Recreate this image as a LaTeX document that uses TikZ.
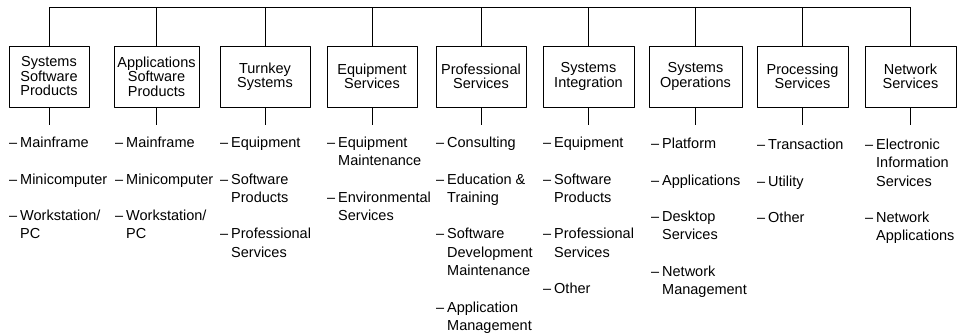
\documentclass[tikz,border=0pt]{standalone}
\usepackage{fontspec}
\setmainfont{Liberation Sans}
\newcommand\subdash{\strut\makebox[11pt][l]{--}}
\newcommand\subindent{\hspace*{11pt}}
\tikzset{
  catbox/.style={draw, line width=0.9pt, minimum height=61pt, inner sep=2pt,
    align=center, font=\fontsize{14.5}{14.5}\selectfont},
  subitem/.style={anchor=north west, inner sep=0pt, align=left,
    font=\fontsize{14.5}{18.3}\selectfont}
}
\begin{document}
\begin{tikzpicture}[x=1pt, y=-1pt, line join=round]
    \useasboundingbox (0,0) rectangle (963,333);

    % 1. Kategorien
    \node[catbox, minimum width=80pt] (ssp) at (49,76.5) {Systems\\Software\\Products};
    \node[catbox, minimum width=85pt] (asp) at (156.5,76.5) {Applications\\Software\\Products};
    \node[catbox, minimum width=90pt] (tks) at (265,76.5) {Turnkey\\Systems};
    \node[catbox, minimum width=90pt] (eqs) at (372,76.5) {Equipment\\Services};
    \node[catbox, minimum width=90pt] (prs) at (481,76.5) {Professional\\Services};
    \node[catbox, minimum width=91pt] (sin) at (588.5,76.5) {Systems\\Integration};
    \node[catbox, minimum width=93pt] (sop) at (695.5,76.5) {Systems\\Operations};
    \node[catbox, minimum width=91pt] (pcs) at (802.5,76.5) {Processing\\Services};
    \node[catbox, minimum width=91pt] (nws) at (910.5,76.5) {Network\\Services};

    % 2. Verbindungen
    \coordinate (bus) at (0,7);
    \draw[line width=0.9pt] (ssp.north |- bus) -- (nws.north |- bus);
    \foreach \b in {ssp,asp,tks,eqs,prs,sin,sop,pcs,nws} {
        \draw[line width=0.9pt] (\b.north) -- (\b.north |- bus);
        \draw[line width=0.9pt] (\b.south) -- ++(0,18);
    }

    % 3. Unterpunkte
    \node[subitem] (ssp1) at (9,134.4) {\subdash Mainframe};
    \node[subitem] (ssp2) at (9,171.0) {\subdash Minicomputer};
    \node[subitem] (ssp3) at (9,207.6) {\subdash Workstation/\\\subindent PC};

    \node[subitem] (asp1) at (115,134.4) {\subdash Mainframe};
    \node[subitem] (asp2) at (115,171.0) {\subdash Minicomputer};
    \node[subitem] (asp3) at (115,207.6) {\subdash Workstation/\\\subindent PC};

    \node[subitem] (tks1) at (220,134.4) {\subdash Equipment};
    \node[subitem] (tks2) at (220,171.0) {\subdash Software\\\subindent Products};
    \node[subitem] (tks3) at (220,225.9) {\subdash Professional\\\subindent Services};

    \node[subitem] (eqs1) at (327,134.4) {\subdash Equipment\\\subindent Maintenance};
    \node[subitem] (eqs2) at (327,189.3) {\subdash Environmental\\\subindent Services};

    \node[subitem] (prs1) at (436,134.4) {\subdash Consulting};
    \node[subitem] (prs2) at (436,171.0) {\subdash Education \&\\\subindent Training};
    \node[subitem] (prs3) at (436,225.9) {\subdash Software\\\subindent Development\\\subindent Maintenance};
    \node[subitem] (prs4) at (436,299.1) {\subdash Application\\\subindent Management};

    \node[subitem] (sin1) at (543,134.4) {\subdash Equipment};
    \node[subitem] (sin2) at (543,171.0) {\subdash Software\\\subindent Products};
    \node[subitem] (sin3) at (543,225.9) {\subdash Professional\\\subindent Services};
    \node[subitem] (sin4) at (543,280.8) {\subdash Other};

    \node[subitem] (sop1) at (651,135.4) {\subdash Platform};
    \node[subitem] (sop2) at (651,172.0) {\subdash Applications};
    \node[subitem] (sop3) at (651,208.6) {\subdash Desktop\\\subindent Services};
    \node[subitem] (sop4) at (651,263.5) {\subdash Network\\\subindent Management};

    \node[subitem] (pcs1) at (757,136.4) {\subdash Transaction};
    \node[subitem] (pcs2) at (757,173.0) {\subdash Utility};
    \node[subitem] (pcs3) at (757,209.6) {\subdash Other};

    \node[subitem] (nws1) at (865,136.4) {\subdash Electronic\\\subindent Information\\\subindent Services};
    \node[subitem] (nws2) at (865,209.6) {\subdash Network\\\subindent Applications};

\end{tikzpicture}
\end{document}
